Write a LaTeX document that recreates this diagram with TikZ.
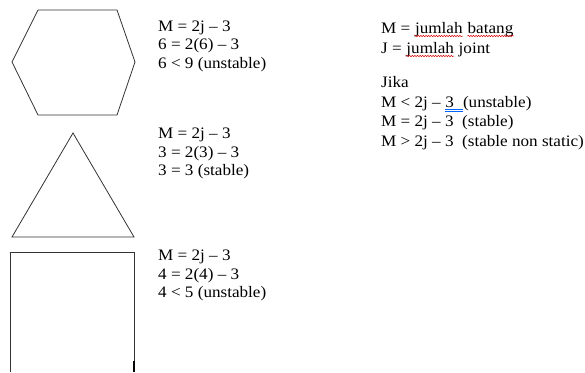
\documentclass[tikz,border=0pt]{standalone}
\usepackage{fontspec}
\setmainfont{Liberation Serif}[FakeStretch=1.07]
\usetikzlibrary{decorations.pathmorphing}
\newcommand{\hardsp}{\ \null}
\begin{document}
\begin{tikzpicture}[x=1pt,y=-1pt,
  shape line/.style={draw=black!80, line width=0.8pt, line join=miter},
  txt/.style={anchor=base west, inner sep=0pt, font=\fontsize{16}{18}\selectfont},
  spell/.style={draw=red!85!black, line width=0.5pt, decorate,
    decoration={snake, amplitude=0.7pt, segment length=2.6pt}},
  gram/.style={draw=blue!60!cyan, line width=0.7pt}]
\useasboundingbox (0,0) rectangle (585,372);
% hexagon
\draw[shape line] (38,10) -- (117,10) -- (135,62) -- (117,115) -- (38,115) -- (12,62) -- cycle;
% triangle
\draw[shape line] (73,133) -- (134,237) -- (12,237) -- cycle;
% square (cut off at the bottom)
\draw[shape line] (10,372) -- (10,252) -- (134,252) -- (134,372);
\draw[black, line width=1.6pt] (134,361) -- (134,372);
% hexagon text
\node[txt] (h1) at (158,31) {M = 2j -- 3};
\node[txt] (h2) at (158,49.5) {6 = 2(6) -- 3};
\node[txt] (h3) at (158,68) {6 < 9 (unstable)};
% triangle text
\node[txt] (t1) at (158,138.5) {M = 2j -- 3};
\node[txt] (t2) at (158,157) {3 = 2(3) -- 3};
\node[txt] (t3) at (158,175.5) {3 = 3 (stable)};
% square text
\node[txt] (s1) at (158,260.5) {M = 2j -- 3};
\node[txt] (s2) at (158,279) {4 = 2(4) -- 3};
\node[txt] (s3) at (158,297.5) {4 < 5 (unstable)};
% legend
\node[txt] (r1a) at (381,33) {M =\hardsp};
\node[txt] (r1b) at (r1a.base east) {jumlah};
\node[txt] (r1c) at (r1b.base east) {\hardsp};
\node[txt] (r1d) at (r1c.base east) {batang};
\node[txt] (r2a) at (381,53) {J =\hardsp};
\node[txt] (r2b) at (r2a.base east) {jumlah};
\node[txt] (r2c) at (r2b.base east) {\hardsp joint};
\node[txt] (r3) at (381,87.3) {Jika};
\node[txt] (r4a) at (381,107) {M < 2j --\hardsp};
\node[txt] (r4b) at (r4a.base east) {3\ \hardsp};
\node[txt] (r4c) at (r4b.base east) {(unstable)};
\node[txt] (r5) at (381,126.5) {M = 2j -- 3\ \ (stable)};
\node[txt] (r6) at (381,146) {M > 2j -- 3\ \ (stable non static)};
% spelling / grammar marks
\draw[spell] ([yshift=-3pt]r1b.base west) -- ([yshift=-3pt]r1b.base east);
\draw[spell] ([yshift=-3pt]r1d.base west) -- ([yshift=-3pt]r1d.base east);
\draw[spell] ([yshift=-3pt]r2b.base west) -- ([yshift=-3pt]r2b.base east);
\draw[gram] ([yshift=-2.5pt]r4b.base west) -- ([yshift=-2.5pt]r4b.base east);
\draw[gram] ([yshift=-4pt]r4b.base west) -- ([yshift=-4pt]r4b.base east);
\end{tikzpicture}
\end{document}
